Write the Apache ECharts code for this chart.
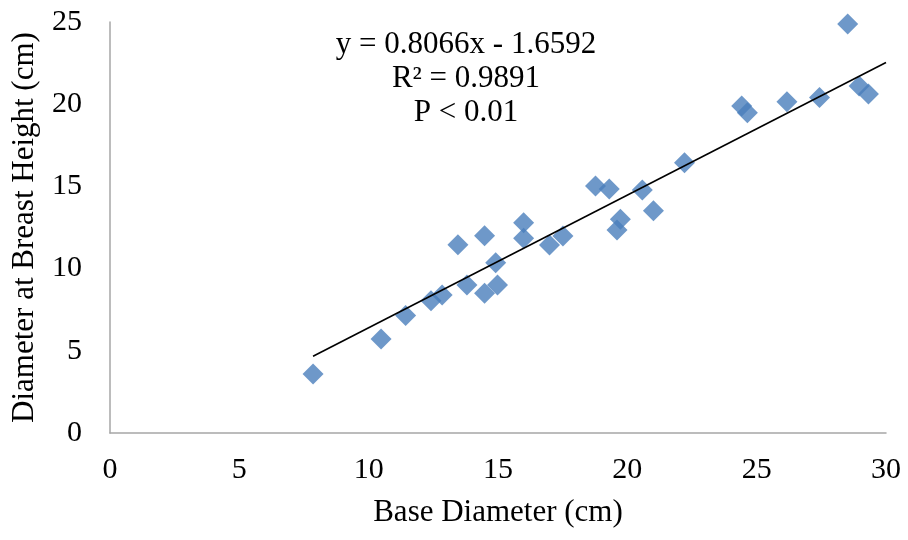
<!DOCTYPE html>
<html>
<head>
<meta charset="utf-8">
<script src="https://cdn.jsdelivr.net/npm/echarts@6/dist/echarts.min.js"></script>
<style>html,body{margin:0;padding:0;background:#fff;}#c{width:908px;height:540px;}</style>
</head>
<body>
<div id="c"></div>
<script>
const baseDiameter = [7.85, 10.48, 11.43, 12.41, 12.84, 13.80, 13.45, 14.48, 14.48, 14.91, 14.98, 15.99, 15.99, 16.99, 17.51, 18.77, 19.30, 19.60, 19.73, 20.58, 21.01, 22.21, 24.42, 24.64, 26.17, 27.43, 28.52, 28.96, 29.32];
const dbh          = [3.59, 5.72, 7.14, 8.05, 8.39, 9.00, 11.45, 12.00, 8.50, 10.36, 9.00, 12.79, 11.84, 11.44, 11.98, 15.02, 14.84, 12.35, 13.00, 14.78, 13.52, 16.44, 19.89, 19.48, 20.15, 20.40, 24.88, 21.10, 20.62];
const slope = 0.8066, intercept = -1.6592;
const trendX = [7.85, 30];
const xTicks = [0, 5, 10, 15, 20, 25, 30];
const yTicks = [0, 5, 10, 15, 20, 25];
const annotation = ['y = 0.8066x - 1.6592', 'R² = 0.9891', 'P < 0.01'];

const points = baseDiameter.map((x, i) => [x, dbh[i]]);
const trend = trendX.map(x => [x, slope * x + intercept]);
const font = '"Liberation Serif", "Times New Roman", serif';
const axisCommon = {
  axisLine: {show: true, lineStyle: {color: '#a6a6a6', width: 1.5}},
  axisTick: {show: false},
  splitLine: {show: false},
  axisLabel: {color: '#000', fontFamily: font, fontSize: 30},
  nameTextStyle: {color: '#000', fontFamily: font, fontSize: 31},
  nameLocation: 'middle'
};
const chart = echarts.init(document.getElementById('c'));
chart.setOption({
  animation: false,
  backgroundColor: '#fff',
  grid: {left: 110, right: 22, top: 22, bottom: 107},
  xAxis: Object.assign({}, axisCommon, {
    type: 'value', min: xTicks[0], max: xTicks[xTicks.length - 1], interval: 5,
    name: 'Base Diameter (cm)', nameGap: 64,
    axisLabel: Object.assign({}, axisCommon.axisLabel, {margin: 22})
  }),
  yAxis: Object.assign({}, axisCommon, {
    type: 'value', min: yTicks[0], max: yTicks[yTicks.length - 1], interval: 5,
    name: 'Diameter at Breast Height (cm)', nameGap: 70,
    axisLabel: Object.assign({}, axisCommon.axisLabel, {margin: 28})
  }),
  series: [
    {type: 'line', data: trend, symbol: 'none', lineStyle: {color: '#000', width: 1.6}, z: 3},
    {type: 'scatter', data: points, symbol: 'diamond', symbolSize: [21, 21], itemStyle: {color: '#4A7EBB'}, z: 2}
  ],
  graphic: annotation.map((t, i) => ({
    type: 'text', x: 466, y: 45 + i * 34,
    style: {text: t, fill: '#000', font: '31px ' + font, textAlign: 'center', textVerticalAlign: 'middle'}
  }))
});
</script>
</body>
</html>
